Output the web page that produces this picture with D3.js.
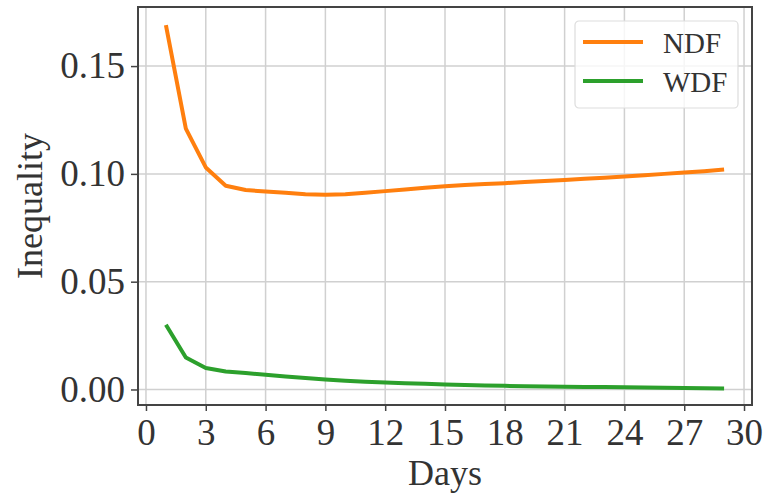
<!DOCTYPE html>
<html lang="en">
<head>
  <meta charset="UTF-8" />
  <title>Inequality over days</title>
  <style>
    body { margin: 0; background: #fff; }
    svg { display: block; font-family: "Liberation Serif", "DejaVu Serif", serif; }
    .grid line { stroke: #d0d0d0; stroke-width: 1.5px; }
    .axis path, .axis line { stroke: #444; stroke-width: 1.5px; }
    .axis text { fill: #333; font-size: 37px; font-family: "Liberation Serif", serif; }
  </style>
</head>
<body>
  <svg width="767" height="498"></svg>
  <script src="https://d3js.org/d3.v7.min.js"></script>
  <script>
    const days = d3.range(1, 30);
    const ndf = [0.169, 0.121, 0.103, 0.0945, 0.0925, 0.0918, 0.0912, 0.0906, 0.0903,
      0.0905, 0.0912, 0.0920, 0.0928, 0.0936, 0.0943, 0.0948, 0.0953, 0.0957, 0.0962,
      0.0967, 0.0972, 0.0977, 0.0982, 0.0988, 0.0994, 0.1000, 0.1006, 0.1012, 0.1020];
    const wdf = [0.030, 0.0148, 0.0100, 0.0083, 0.0076, 0.0068, 0.0060, 0.0053, 0.0046,
      0.0041, 0.0036, 0.0032, 0.0029, 0.0026, 0.0023, 0.0021, 0.0019, 0.0017, 0.0015,
      0.0014, 0.0013, 0.0012, 0.0011, 0.0010, 0.0009, 0.0008, 0.0007, 0.0006, 0.0005];
    const xTicks = d3.range(0, 31, 3);
    const yTicks = [0, 0.05, 0.10, 0.15];
    const series = [
      { name: "NDF", values: ndf, color: "#ff7f0e" },
      { name: "WDF", values: wdf, color: "#2ca02c" }
    ];

    const svg = d3.select("svg");
    const m = { left: 138, right: 752, top: 7, bottom: 405 };

    const x = d3.scaleLinear().domain([-0.4, 30.4]).range([m.left, m.right]);
    const y = d3.scaleLinear().domain([-0.0072, 0.1774]).range([m.bottom, m.top]);

    // grid
    const grid = svg.append("g").attr("class", "grid");
    grid.selectAll(".gx").data(xTicks).enter().append("line")
      .attr("x1", d => x(d)).attr("x2", d => x(d))
      .attr("y1", m.top).attr("y2", m.bottom);
    grid.selectAll(".gy").data(yTicks).enter().append("line")
      .attr("x1", m.left).attr("x2", m.right)
      .attr("y1", d => y(d)).attr("y2", d => y(d));

    // lines
    const line = d3.line().x((d, i) => x(days[i])).y(d => y(d));
    svg.selectAll(".series").data(series).enter().append("path")
      .attr("fill", "none")
      .attr("stroke", d => d.color)
      .attr("stroke-width", 4)
      .attr("stroke-linejoin", "round")
      .attr("d", d => line(d.values));

    // frame
    svg.append("rect")
      .attr("x", m.left).attr("y", m.top)
      .attr("width", m.right - m.left).attr("height", m.bottom - m.top)
      .attr("fill", "none").attr("stroke", "#444").attr("stroke-width", 2);

    // axes
    svg.append("g").attr("class", "axis")
      .attr("transform", `translate(0,${m.bottom})`)
      .call(d3.axisBottom(x).tickValues(xTicks).tickSize(6).tickPadding(8).tickFormat(d3.format("d")))
      .call(g => g.select(".domain").remove());
    svg.append("g").attr("class", "axis")
      .attr("transform", `translate(${m.left},0)`)
      .call(d3.axisLeft(y).tickValues(yTicks).tickSize(7).tickPadding(6).tickFormat(d3.format(".2f")))
      .call(g => g.select(".domain").remove());

    // axis titles
    svg.append("text")
      .attr("x", (m.left + m.right) / 2).attr("y", 485)
      .attr("text-anchor", "middle")
      .attr("font-size", 36).attr("fill", "#333")
      .text("Days");
    svg.append("text")
      .attr("transform", `translate(42,${(m.top + m.bottom) / 2}) rotate(-90)`)
      .attr("text-anchor", "middle")
      .attr("font-size", 36).attr("fill", "#333")
      .text("Inequality");

    // legend
    const lg = svg.append("g").attr("transform", "translate(575,21)");
    lg.append("rect")
      .attr("width", 163).attr("height", 87).attr("rx", 4)
      .attr("fill", "#fff").attr("fill-opacity", 0.8)
      .attr("stroke", "#ddd").attr("stroke-width", 1.2);
    series.forEach((s, i) => {
      const yy = 21 + i * 39;
      lg.append("line")
        .attr("x1", 8).attr("x2", 68).attr("y1", yy).attr("y2", yy)
        .attr("stroke", s.color).attr("stroke-width", 4);
      lg.append("text")
        .attr("x", 88).attr("y", yy + 11)
        .attr("font-size", 29).attr("fill", "#333")
        .text(s.name);
    });
  </script>
</body>
</html>
